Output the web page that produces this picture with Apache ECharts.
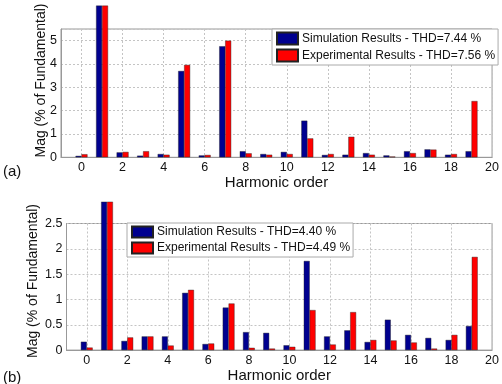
<!DOCTYPE html>
<html>
<head>
<meta charset="utf-8">
<script src="https://cdn.jsdelivr.net/npm/echarts@6/dist/echarts.min.js"></script>
<style>
    html, body { margin: 0; padding: 0; background: #fff; }
    #chart { width: 502px; height: 384px; }
</style>
</head>
<body>
<div id="chart"></div>
<script>
// harmonic orders shown on the axis (-1 and 20 are just the axis ends)
const orders = ['-1', '0', '1', '2', '3', '4', '5', '6', '7', '8', '9', '10',
    '11', '12', '13', '14', '15', '16', '17', '18', '19', '20'];

// (a) harmonics 0..19, fundamental bar cut off by the picture
const simA = [0.06, 6.5, 0.21, 0.07, 0.14, 3.7, 0.08, 4.76, 0.26, 0.14,
    0.23, 1.57, 0.1, 0.11, 0.18, 0.08, 0.26, 0.34, 0.11, 0.26];
const expA = [0.13, 6.5, 0.23, 0.26, 0.11, 3.96, 0.1, 5.0, 0.17, 0.11,
    0.14, 0.81, 0.14, 0.88, 0.11, 0.03, 0.18, 0.33, 0.14, 2.41];

// (b)
const simB = [0.165, 2.93, 0.18, 0.27, 0.27, 1.13, 0.12, 0.84, 0.355, 0.34,
    0.095, 1.76, 0.27, 0.39, 0.16, 0.6, 0.3, 0.24, 0.2, 0.475];
const expB = [0.05, 2.93, 0.25, 0.27, 0.09, 1.19, 0.13, 0.92, 0.045, 0.03,
    0.065, 0.79, 0.11, 0.75, 0.2, 0.19, 0.15, 0.03, 0.3, 1.84];

const namesA = ['Simulation Results - THD=7.44 %', 'Experimental Results - THD=7.56 %'];
const namesB = ['Simulation Results - THD=4.40 %', 'Experimental Results - THD=4.49 %'];

const BLUE = '#00008f';
const RED = '#ff0000';
const FONT = "'Liberation Sans', Arial, sans-serif";

const evenOrder = (idx, val) => Number(val) >= 0 && Number(val) % 2 === 0;
const pad = arr => [null].concat(arr, [null]);

function xAxisOf(gridIndex) {
    return {
        gridIndex: gridIndex,
        type: 'category',
        data: orders,
        boundaryGap: false,
        name: 'Harmonic order',
        nameLocation: 'middle',
        nameGap: 15,
        nameTextStyle: { fontFamily: FONT, fontSize: 15, color: '#111' },
        axisLine: { lineStyle: { color: '#999' } },
        axisTick: { show: false },
        axisLabel: {
            interval: evenOrder,
            margin: 4,
            fontFamily: FONT, fontSize: 12.5, color: '#111'
        },
        splitLine: {
            show: true,
            interval: evenOrder,
            lineStyle: { color: '#c4c4c4', type: [2, 2], width: 1 }
        }
    };
}

function yAxisOf(gridIndex, max, step) {
    return {
        gridIndex: gridIndex,
        type: 'value',
        min: 0,
        max: max,
        interval: step,
        axisLine: { show: true, lineStyle: { color: '#999' } },
        axisTick: { show: false },
        axisLabel: {
            margin: 4,
            showMaxLabel: max % step === 0,
            fontFamily: FONT, fontSize: 12.5, color: '#111'
        },
        splitLine: { lineStyle: { color: '#c4c4c4', type: [2, 2], width: 1 } }
    };
}

function barOf(name, data, color, idx) {
    return {
        name: name,
        type: 'bar',
        xAxisIndex: idx,
        yAxisIndex: idx,
        data: pad(data),
        barWidth: '29%',
        barGap: '0%',
        clip: false,
        itemStyle: { color: color, borderColor: '#222', borderWidth: 0.4 }
    };
}

function legendOf(names, left, top, itemH, lineH) {
    return {
        data: names,
        orient: 'vertical',
        left: left,
        top: top,
        icon: 'rect',
        itemWidth: 21,
        itemHeight: itemH,
        itemGap: 2,
        padding: [2, 3, 2, 4],
        borderColor: '#aaa',
        borderWidth: 1,
        backgroundColor: '#fff',
        selectedMode: false,
        textStyle: { fontFamily: FONT, fontSize: 12, lineHeight: lineH, color: '#111', padding: [0, 0, 0, -1] }
    };
}

const myChart = echarts.init(document.getElementById('chart'));
myChart.setOption({
    animation: false,
    grid: [
        { left: 61, top: 29, width: 436, height: 128.3, show: true, borderColor: '#999', borderWidth: 1 },
        { left: 66.5, top: 223.5, width: 430.5, height: 131.5, show: true, borderColor: '#999', borderWidth: 1 }
    ],
    legend: [
        legendOf(namesA, 272, 29, 12, 15),
        legendOf(namesB, 127, 223, 11, 14)
    ],
    xAxis: [xAxisOf(0), xAxisOf(1)],
    yAxis: [yAxisOf(0, 5.5, 1), yAxisOf(1, 2.5, 0.5)],
    series: [
        barOf(namesA[0], simA, BLUE, 0),
        barOf(namesA[1], expA, RED, 0),
        barOf(namesB[0], simB, BLUE, 1),
        barOf(namesB[1], expB, RED, 1)
    ],
    graphic: [
        { type: 'text', x: 40.7, y: 80.5, rotation: Math.PI / 2,
          style: { text: 'Mag (% of Fundamental)', font: '14px ' + FONT, fill: '#111', align: 'center', verticalAlign: 'middle' } },
        { type: 'text', x: 33.3, y: 281, rotation: Math.PI / 2,
          style: { text: 'Mag (% of Fundamental)', font: '14px ' + FONT, fill: '#111', align: 'center', verticalAlign: 'middle' } },
        { type: 'text', x: 3, y: 172,
          style: { text: '(a)', font: '15px ' + FONT, fill: '#111', verticalAlign: 'middle' } },
        { type: 'text', x: 3, y: 378,
          style: { text: '(b)', font: '15px ' + FONT, fill: '#111', verticalAlign: 'middle' } }
    ]
});
</script>
</body>
</html>
